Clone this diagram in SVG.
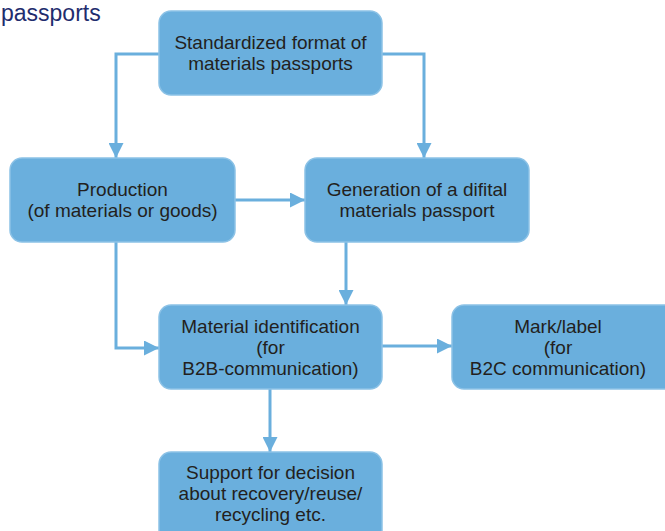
<svg xmlns="http://www.w3.org/2000/svg" width="665" height="531" viewBox="0 0 665 531">
<style>
.box{fill:#6aafdd;stroke:#8cc2e6;stroke-width:1.5}
.t{font-family:"Liberation Sans",Arial,sans-serif;font-size:19px;fill:#231f20;text-anchor:middle}
.c{fill:none;stroke:#6aafdd;stroke-width:3}
.title{font-family:"Liberation Sans",Arial,sans-serif;font-size:23px;fill:#1f2d6e}
</style>
<defs>
<marker id="ah" viewBox="0 0 10 10" refX="10" refY="5" markerWidth="5" markerHeight="5" markerUnits="strokeWidth" orient="auto">
<path d="M0,0 L10,5 L0,10 Z" fill="#6aafdd"/>
</marker>
</defs>
<text class="title" x="1" y="21">passports</text>
<g id="connectors">
<path class="c" d="M159,54 H116 V158" marker-end="url(#ah)"/>
<path class="c" d="M382,54 H424 V158" marker-end="url(#ah)"/>
<path class="c" d="M235,200 H305" marker-end="url(#ah)"/>
<path class="c" d="M116,242 V348 H159" marker-end="url(#ah)"/>
<path class="c" d="M346,242 V305" marker-end="url(#ah)"/>
<path class="c" d="M382,346 H452" marker-end="url(#ah)"/>
<path class="c" d="M270,389 V452" marker-end="url(#ah)"/>
</g>
<g id="n1"><rect class="box" x="159" y="11" width="223" height="84" rx="12"/>
<text class="t" x="270.5" y="49">Standardized format of</text><text class="t" x="270.5" y="70">materials passports</text></g>
<g id="n2"><rect class="box" x="10" y="158" width="225" height="84" rx="12"/>
<text class="t" x="122.5" y="196">Production</text><text class="t" x="122.5" y="217">(of materials or goods)</text></g>
<g id="n3"><rect class="box" x="305" y="158" width="224" height="84" rx="12"/>
<text class="t" x="417" y="196">Generation of a difital</text><text class="t" x="417" y="217">materials passport</text></g>
<g id="n4"><rect class="box" x="159" y="305" width="223" height="84" rx="12"/>
<text class="t" x="270.5" y="333">Material identification</text><text class="t" x="270.5" y="354">(for</text><text class="t" x="270.5" y="375">B2B-communication)</text></g>
<g id="n5"><rect class="box" x="452" y="305" width="230" height="84" rx="12"/>
<text class="t" x="558" y="333">Mark/label</text><text class="t" x="558" y="354">(for</text><text class="t" x="558" y="375">B2C communication)</text></g>
<g id="n6"><rect class="box" x="159" y="452" width="223" height="100" rx="12"/>
<text class="t" x="270.5" y="479">Support for decision</text><text class="t" x="270.5" y="500">about recovery/reuse/</text><text class="t" x="270.5" y="521">recycling etc.</text></g>
</svg>
